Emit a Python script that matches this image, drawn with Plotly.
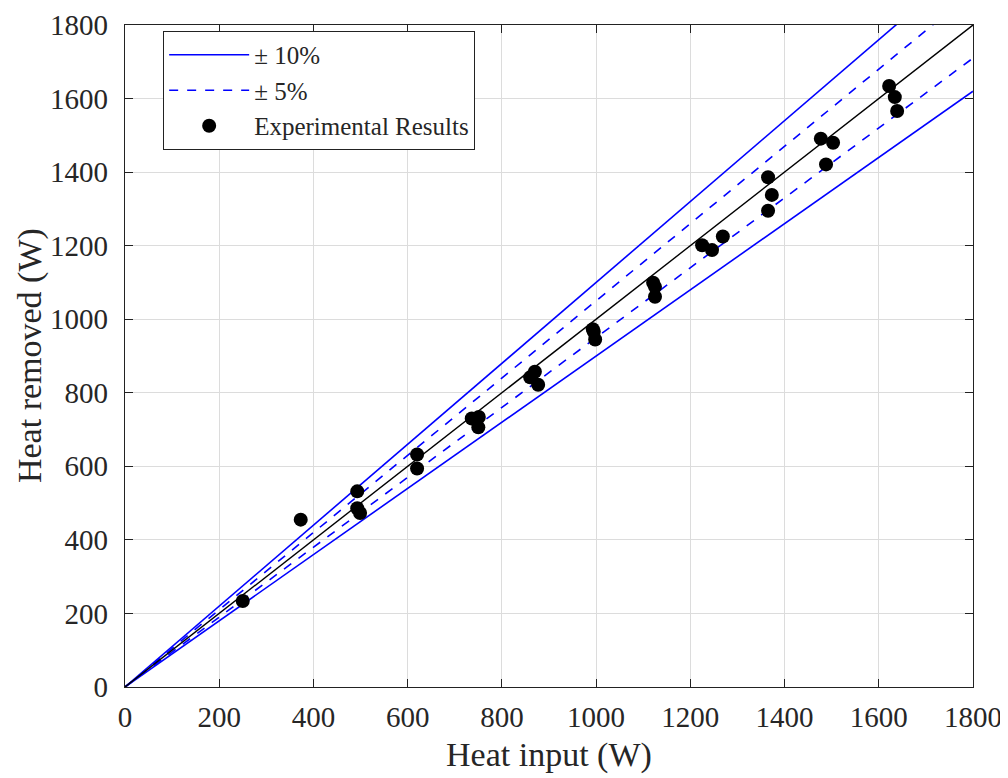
import plotly.graph_objects as go

heat_input = [250, 373, 493, 493, 499, 620, 620, 736, 751, 750, 860, 870, 877,
              993, 998, 995, 1121, 1125, 1125, 1225, 1246, 1269, 1365, 1365, 1373,
              1477, 1488, 1503, 1622, 1634, 1639]
heat_removed = [234, 455, 532, 486, 473, 632, 594, 730, 734, 706, 842, 857, 822,
                973, 945, 966, 1099, 1088, 1061, 1201, 1188, 1225, 1386, 1295, 1338,
                1491, 1421, 1480, 1634, 1604, 1566]

line_x = [0, 1800]
band10 = [1.10, 0.90]
band5 = [1.05, 0.95]

FONT = "Liberation Serif, Times New Roman, serif"
fig = go.Figure()

for i, f in enumerate(band10):
    fig.add_trace(go.Scatter(x=line_x, y=[v * f for v in line_x], mode="lines",
                             line=dict(color="#0000ff", width=1.6),
                             name="± 10%", showlegend=(i == 0)))
for i, f in enumerate(band5):
    fig.add_trace(go.Scatter(x=line_x, y=[v * f for v in line_x], mode="lines",
                             line=dict(color="#0000ff", width=1.6, dash="dash"),
                             name="± 5%", showlegend=(i == 0)))
fig.add_trace(go.Scatter(x=line_x, y=line_x, mode="lines",
                         line=dict(color="black", width=1.4), showlegend=False))
fig.add_trace(go.Scatter(x=heat_input, y=heat_removed, mode="markers",
                         marker=dict(color="black", size=14),
                         name="Experimental Results"))

axis_common = dict(range=[0, 1800], dtick=200, showgrid=True, gridcolor="#dcdcdc",
                   gridwidth=1, showline=True, linecolor="#222", linewidth=1.2,
                   mirror="ticks", ticks="inside", ticklen=8, tickcolor="#222",
                   zeroline=False, automargin=False, ticklabeloverflow="allow",
                   tickfont=dict(family=FONT, size=29, color="#262626"))

fig.update_layout(
    width=1000, height=770,
    margin=dict(l=117, r=35, t=17, b=91),
    paper_bgcolor="white", plot_bgcolor="white",
    font=dict(family=FONT, color="#262626"),
    xaxis=dict(**axis_common, ticklabelstandoff=4),
    yaxis=dict(**axis_common, ticklabelstandoff=10),
    legend=dict(x=0.045, y=0.991, xanchor="left", yanchor="top",
                bgcolor="white", bordercolor="#222", borderwidth=1,
                font=dict(family=FONT, size=25, color="#262626"),
                itemwidth=80, tracegroupgap=0),
    showlegend=True,
    annotations=[
        dict(text="Heat input (W)", xref="paper", yref="paper", x=0.5, y=-0.103,
             xanchor="center", yanchor="middle", showarrow=False,
             font=dict(family=FONT, size=34, color="#262626")),
        dict(text="Heat removed (W)", xref="paper", yref="paper", x=-0.112, y=0.5,
             xanchor="center", yanchor="middle", showarrow=False, textangle=-90,
             font=dict(family=FONT, size=34, color="#262626")),
    ],
)

fig.write_html("out.html")
